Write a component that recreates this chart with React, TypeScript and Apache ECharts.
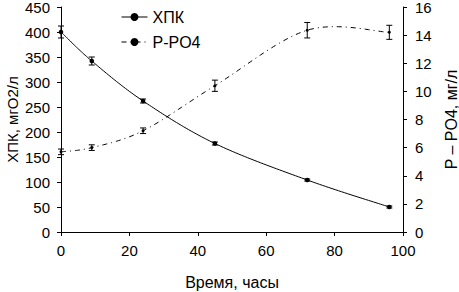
import React, { useEffect, useRef } from "react";
import * as echarts from "echarts";

const hours = [0, 9, 24, 45, 72, 96];
const codValues = [400, 342, 262, 177, 104, 50];
const codErrors = [12, 8, 4, 3, 2, 2];
const po4Values = [5.7, 6.0, 7.2, 10.4, 14.35, 14.2];
const po4Errors = [0.2, 0.2, 0.2, 0.4, 0.55, 0.5];
const codName = "ХПК";
const po4Name = "P-PO4";

const FONT = "'Liberation Sans', Arial, sans-serif";
const PO4_DASH = [5, 4, 1, 4];

function errorSeries(values: number[], errors: number[], yAxisIndex: number) {
  return {
    type: "custom",
    yAxisIndex,
    silent: true,
    z: 5,
    data: hours.map((h, i) => [h, values[i] - errors[i], values[i] + errors[i]]),
    renderItem: (params: any, api: any) => {
      const lo = api.coord([api.value(0), api.value(1)]);
      const hi = api.coord([api.value(0), api.value(2)]);
      const w = 3;
      const style = { stroke: "#000", lineWidth: 1 };
      return {
        type: "group",
        children: [
          { type: "line", shape: { x1: lo[0], y1: lo[1], x2: hi[0], y2: hi[1] }, style },
          { type: "line", shape: { x1: lo[0] - w, y1: lo[1], x2: lo[0] + w, y2: lo[1] }, style },
          { type: "line", shape: { x1: hi[0] - w, y1: hi[1], x2: hi[0] + w, y2: hi[1] }, style },
        ],
      };
    },
  };
}

// Spreadsheet-style smoothed curve (Catmull-Rom Bezier) through the data points, in pixel space
function curveSeries(values: number[], yAxisIndex: number, dash: any) {
  return {
    type: "custom",
    yAxisIndex,
    silent: true,
    z: 3,
    data: [[hours[0], values[0]]],
    renderItem: (params: any, api: any) => {
      const p = hours.map((h, i) => api.coord([h, values[i]]));
      const n = p.length;
      const pts: number[][] = [];
      for (let i = 0; i < n - 1; i++) {
        const p0 = p[Math.max(0, i - 1)];
        const p1 = p[i];
        const p2 = p[i + 1];
        const p3 = p[Math.min(n - 1, i + 2)];
        const c1 = [p1[0] + (p2[0] - p0[0]) / 6, p1[1] + (p2[1] - p0[1]) / 6];
        const c2 = [p2[0] - (p3[0] - p1[0]) / 6, p2[1] - (p3[1] - p1[1]) / 6];
        const steps = 30;
        for (let s = i === 0 ? 0 : 1; s <= steps; s++) {
          const t = s / steps;
          const a = (1 - t) * (1 - t) * (1 - t);
          const b = 3 * (1 - t) * (1 - t) * t;
          const c = 3 * (1 - t) * t * t;
          const d = t * t * t;
          pts.push([
            a * p1[0] + b * c1[0] + c * c2[0] + d * p2[0],
            a * p1[1] + b * c1[1] + c * c2[1] + d * p2[1],
          ]);
        }
      }
      return {
        type: "polyline",
        shape: { points: pts },
        style: { stroke: "#000", lineWidth: 1, fill: "none", lineDash: dash },
      };
    },
  };
}

export default function App() {
  const ref = useRef<HTMLDivElement>(null);
  useEffect(() => {
    const chart = echarts.init(ref.current!, null, { renderer: "svg" });
    const axisText = { color: "#000", fontSize: 15, fontFamily: FONT };
    const nameText = { color: "#000", fontSize: 16, fontFamily: FONT };
    chart.setOption({
      animation: false,
      backgroundColor: "#fff",
      textStyle: { fontFamily: FONT, color: "#000" },
      grid: { left: 61, right: 56, top: 7, bottom: 60, containLabel: false, outerBoundsMode: "none" },
      legend: {
        orient: "vertical",
        left: 116,
        top: 4,
        itemWidth: 26,
        itemHeight: 10,
        itemGap: 9,
        textStyle: { ...axisText, fontSize: 16 },
        data: [
          { name: codName, lineStyle: { opacity: 1, color: "#000", width: 1 } },
          { name: po4Name, lineStyle: { opacity: 1, color: "#000", width: 1, type: PO4_DASH } },
        ],
      },
      xAxis: {
        type: "value",
        min: 0,
        max: 100,
        interval: 20,
        name: "Время, часы",
        nameLocation: "middle",
        nameGap: 42,
        nameMoveOverlap: false,
        nameTextStyle: nameText,
        axisLine: { show: true, lineStyle: { color: "#000", width: 1 } },
        axisTick: { show: true, length: 4, lineStyle: { color: "#000" } },
        axisLabel: { ...axisText, margin: 11 },
        splitLine: { show: false },
      },
      yAxis: [
        {
          type: "value",
          min: 0,
          max: 450,
          interval: 50,
          name: "ХПК, мгO2/л",
          nameLocation: "middle",
          nameRotate: 90,
          nameGap: 41,
          nameMoveOverlap: false,
          nameTextStyle: { ...nameText, fontSize: 15 },
          axisLine: { show: true, lineStyle: { color: "#000", width: 1 } },
          axisTick: { show: true, length: 4, lineStyle: { color: "#000" } },
          axisLabel: { ...axisText, margin: 11 },
          splitLine: { show: false },
        },
        {
          type: "value",
          min: 0,
          max: 16,
          interval: 2,
          position: "right",
          name: "P – PO4, мг/л",
          nameLocation: "middle",
          nameRotate: 90,
          nameGap: 40,
          nameMoveOverlap: false,
          nameTextStyle: nameText,
          axisLine: { show: true, lineStyle: { color: "#000", width: 1 } },
          axisTick: { show: true, length: 4, lineStyle: { color: "#000" } },
          axisLabel: { ...axisText, margin: 12 },
          splitLine: { show: false },
        },
      ],
      series: [
        {
          name: codName,
          type: "line",
          yAxisIndex: 0,
          symbol: "circle",
          symbolSize: 4.5,
          itemStyle: { color: "#000" },
          lineStyle: { color: "#000", width: 1, opacity: 0 },
          data: hours.map((h, i) => [h, codValues[i]]),
          z: 4,
        },
        {
          name: po4Name,
          type: "line",
          yAxisIndex: 1,
          symbol: "circle",
          symbolSize: 3,
          itemStyle: { color: "#000" },
          lineStyle: { color: "#000", width: 1, type: PO4_DASH, opacity: 0 },
          data: hours.map((h, i) => [h, po4Values[i]]),
          z: 4,
        },
        curveSeries(codValues, 0, null),
        curveSeries(po4Values, 1, PO4_DASH),
        errorSeries(codValues, codErrors, 0),
        errorSeries(po4Values, po4Errors, 1),
      ],
    });
    return () => chart.dispose();
  }, []);
  return (
    <div
      ref={ref}
      style={{ position: "fixed", left: 0, top: 0, width: 459, height: 292 }}
    />
  );
}
